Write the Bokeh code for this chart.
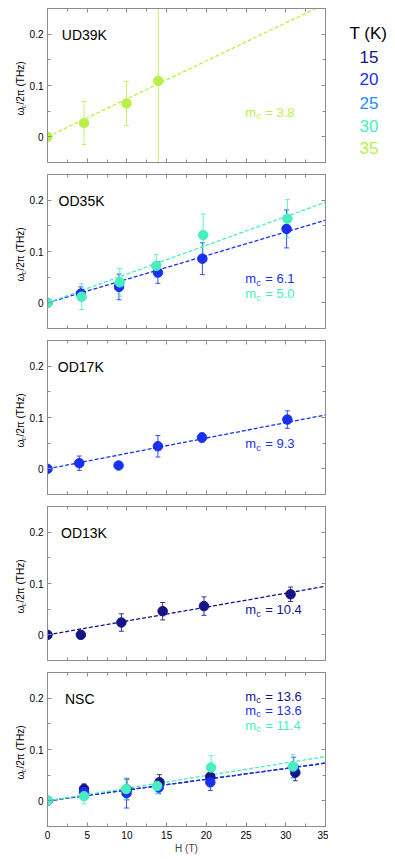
import math
from bokeh.plotting import figure
from bokeh.models import (ColumnDataSource, Whisker, TeeHead, Label, LinearAxis,
                          FixedTicker, Range1d)
from bokeh.layouts import column, row
from bokeh.embed import file_html
from bokeh.resources import INLINE
from bokeh.core.properties import value

FONT = "Liberation Sans"

# ---------------- data ----------------
temps = ["15", "20", "25", "30", "35"]
temp_colors = ["#141486", "#1a30f0", "#1a8cff", "#48eec0", "#b8f048"]

x_start, x_end = 0, 35
y_start, y_end = -0.05, 0.25
x_major = [0, 5, 10, 15, 20, 25, 30, 35]
x_minor = [2.5, 7.5, 12.5, 17.5, 22.5, 27.5, 32.5]
y_major = [0, 0.1, 0.2]
y_minor = [-0.05, 0.05, 0.15, 0.25]
y_tick_labels = {0: "0", 0.1: "0.1", 0.2: "0.2"}

# UD39K, T = 35 K
ud39_35_H = [0, 4.6, 9.95, 13.95]
ud39_35_w = [0, 0.027, 0.065, 0.109]
ud39_35_e = [0, 0.042, 0.043, 0.30]

# OD35K, T = 20 K and 30 K
od35_20_H = [0, 4.2, 9.0, 13.9, 19.5, 30.1]
od35_20_w = [0, 0.018, 0.031, 0.059, 0.086, 0.144]
od35_20_e = [0, 0.013, 0.025, 0.021, 0.031, 0.037]
od35_30_H = [0, 4.3, 9.1, 13.7, 19.6, 30.2]
od35_30_w = [0, 0.012, 0.040, 0.072, 0.132, 0.164]
od35_30_e = [0, 0.025, 0.027, 0.022, 0.041, 0.037]

# OD17K, T = 20 K
od17_20_H = [0, 4.0, 8.95, 13.9, 19.45, 30.2]
od17_20_w = [0, 0.011, 0.0065, 0.044, 0.061, 0.096]
od17_20_e = [0, 0.014, 0, 0.021, 0.009, 0.017]

# OD13K, T = 15 K
od13_15_H = [0, 4.2, 9.3, 14.5, 19.7, 30.6]
od13_15_w = [0, 0.0, 0.024, 0.046, 0.056, 0.079]
od13_15_e = [0, 0.007, 0.017, 0.017, 0.018, 0.014]

# NSC, T = 15, 20, 30 K
nsc_15_H = [0, 4.6, 10.0, 14.1, 20.5, 31.2]
nsc_15_w = [0, 0.023, 0.022, 0.036, 0.047, 0.055]
nsc_15_e = [0, 0.010, 0.020, 0.015, 0.012, 0.016]
nsc_20_H = [0, 4.6, 9.95, 14.0, 20.5, 31.0]
nsc_20_w = [0, 0.017, 0.015, 0.026, 0.036, 0.065]
nsc_20_e = [0, 0.012, 0.029, 0.012, 0.016, 0.020]
nsc_30_H = [0, 4.6, 9.9, 13.8, 20.6, 30.9]
nsc_30_w = [0, 0.009, 0.023, 0.029, 0.065, 0.067]
nsc_30_e = [0, 0.015, 0.020, 0.015, 0.023, 0.023]

# fitted slopes (THz/T) and effective masses
ud39_slopes = {35: 0.0074}
od35_slopes = {20: 0.0046, 30: 0.0056}
od17_slopes = {20: 0.0030}
od13_slopes = {15: 0.0027}
nsc_slopes = {15: 0.0021, 20: 0.0021, 30: 0.00246}
ud39_mc = {35: "3.8"}
od35_mc = {20: "6.1", 30: "5.0"}
od17_mc = {20: "9.3"}
od13_mc = {15: "10.4"}
nsc_mc = {15: "13.6", 20: "13.6", 30: "11.4"}

# ---------------- layout/style ----------------
GRAY = "#8c8c8c"
FRAME_W, FRAME_H = 280, 154
YLAB_W = 26          # strip holding the rotated y-axis title
LEFT_B = 19          # main figure border for tick labels
RIGHT_B = 3
mc_x = 24.9                     # text anchor (data x) of the m_c labels
mc_y = {"UD39K": [0.048], "OD35K": [0.047, 0.018], "OD17K": [0.049],
        "OD13K": [0.049], "NSC": [0.204, 0.176, 0.147]}
name_x = {"UD39K": 1.8, "OD35K": 1.4, "OD17K": 1.3, "OD13K": 1.7, "NSC": 2.2}


def tcolor(t):
    return temp_colors[temps.index(str(t))]


def borders(first, last):
    return (8 if first else 3), (30 if last else 9)


def make_ylabel(first=False, last=False):
    tb, bb = borders(first, last)
    p = figure(width=YLAB_W, height=tb + FRAME_H + bb,
               x_range=Range1d(0, YLAB_W), y_range=Range1d(0, FRAME_H),
               output_backend="svg", toolbar_location=None,
               x_axis_location=None, y_axis_location=None,
               min_border_left=0, min_border_right=0,
               min_border_top=tb, min_border_bottom=bb)
    p.grid.visible = False
    p.outline_line_color = None
    p.background_fill_color = "white"
    p.border_fill_color = "white"
    rot = math.pi / 2
    p.text(x=[19.5], y=[47], text=["ω"], angle=rot, text_font=value(FONT),
           text_font_size="10px", text_baseline="middle", text_align="left",
           text_color="black")
    p.text(x=[22.5], y=[54], text=["c"], angle=rot, text_font=value(FONT),
           text_font_size="7px", text_baseline="middle", text_align="left",
           text_color="black")
    p.text(x=[19.5], y=[58], text=["/2π (THz)"], angle=rot, text_font=value(FONT),
           text_font_size="10px", text_baseline="middle", text_align="left",
           text_color="black")
    return p


def make_panel(name, series, slopes, mcs, first=False, last=False):
    tb, bb = borders(first, last)
    p = figure(width=LEFT_B + FRAME_W + RIGHT_B, height=tb + FRAME_H + bb,
               x_range=Range1d(x_start, x_end), y_range=Range1d(y_start, y_end),
               output_backend="svg", toolbar_location=None,
               min_border_left=LEFT_B, min_border_right=RIGHT_B,
               min_border_top=tb, min_border_bottom=bb)
    p.grid.visible = False
    p.outline_line_color = GRAY
    p.background_fill_color = "white"
    p.border_fill_color = "white"

    xt = FixedTicker(ticks=x_major, minor_ticks=x_minor)
    yt = FixedTicker(ticks=y_major, minor_ticks=y_minor)

    for ax in p.xaxis:
        ax.ticker = xt
    for ax in p.yaxis:
        ax.ticker = yt
    for ax in list(p.xaxis) + list(p.yaxis):
        ax.axis_line_color = GRAY
        ax.major_tick_line_color = GRAY
        ax.minor_tick_line_color = GRAY
        ax.major_tick_in = 4
        ax.major_tick_out = 0
        ax.minor_tick_in = 3
        ax.minor_tick_out = 0
        ax.major_label_text_font = FONT
        ax.major_label_text_font_size = "10px"
        ax.major_label_text_color = "black"
    p.yaxis.major_label_overrides = y_tick_labels
    p.yaxis.major_label_standoff = 4
    if last:
        p.xaxis.major_label_standoff = 4
        p.xaxis.axis_label = "H (T)"
        p.xaxis.axis_label_text_font = FONT
        p.xaxis.axis_label_text_font_size = "10px"
        p.xaxis.axis_label_text_font_style = "normal"
        p.xaxis.axis_label_standoff = 1
    else:
        p.xaxis.major_label_text_font_size = "1px"
        p.xaxis.major_label_text_color = None
        p.xaxis.major_label_standoff = 0

    # mirrored top / right axes with inward ticks, no labels
    for loc, tk in (("above", xt), ("right", yt)):
        ax = LinearAxis(ticker=tk, axis_line_color=GRAY, major_tick_line_color=GRAY,
                        minor_tick_line_color=GRAY, major_tick_in=4, major_tick_out=0,
                        minor_tick_in=3, minor_tick_out=0,
                        major_label_text_font_size="1px", major_label_text_color=None,
                        major_label_standoff=0)
        p.add_layout(ax, loc)

    # fitted dashed lines
    for t, s in slopes.items():
        p.line([x_start, x_end], [s * x_start, s * x_end], line_color=tcolor(t),
               line_width=1.3, line_dash="4 2")

    # data with error bars
    for t, H, w, e in series:
        c = tcolor(t)
        src = ColumnDataSource(dict(H=H, w=w, lo=[a - b for a, b in zip(w, e)],
                                    up=[a + b for a, b in zip(w, e)]))
        p.add_layout(Whisker(source=src, base="H", lower="lo", upper="up",
                             line_color=c, line_width=1, line_alpha=0.85,
                             lower_head=TeeHead(size=5, line_color=c, line_width=1, line_alpha=0.85),
                             upper_head=TeeHead(size=5, line_color=c, line_width=1, line_alpha=0.85)))
        p.scatter("H", "w", source=src, size=9.5, fill_color=c, line_color=c)

    # sample name
    p.add_layout(Label(x=name_x[name], y=0.198, text=name, text_font=FONT,
                       text_font_size="14px", text_baseline="middle", text_color="black"))

    # m_c labels
    for (t, mc), yy in zip(mcs.items(), mc_y[name]):
        c = tcolor(t)
        p.add_layout(Label(x=mc_x, y=yy, text="m", text_font=FONT, text_font_size="13px",
                           text_baseline="middle", text_color=c))
        p.add_layout(Label(x=mc_x, y=yy, x_offset=11, y_offset=-4, text="c", text_font=FONT,
                           text_font_size="9px", text_baseline="middle", text_color=c))
        p.add_layout(Label(x=mc_x, y=yy, x_offset=20, text="= " + mc, text_font=FONT,
                           text_font_size="13px", text_baseline="middle", text_color=c))
    return p


def make_legend(height):
    wl = 395 - YLAB_W - LEFT_B - FRAME_W - RIGHT_B
    p = figure(width=wl, height=height,
               x_range=Range1d(0, wl), y_range=Range1d(0, height),
               output_backend="svg", toolbar_location=None,
               x_axis_location=None, y_axis_location=None,
               min_border_left=0, min_border_right=0,
               min_border_top=0, min_border_bottom=0)
    p.grid.visible = False
    p.outline_line_color = None
    p.background_fill_color = "white"
    p.border_fill_color = "white"
    p.text(x=[21], y=[height - 27.5], text=["T (K)"], text_font=value(FONT),
           text_font_size="17px", text_baseline="middle", text_align="left",
           text_color="black")
    ys = [height - v for v in (54, 78.5, 104.5, 130, 154.5)]
    src = ColumnDataSource(dict(x=[40.5] * len(temps), y=ys, t=temps, c=temp_colors))
    p.text(x="x", y="y", text="t", text_color="c", source=src, text_font=value(FONT),
           text_font_size="17px", text_baseline="middle", text_align="center")
    return p


specs = [
    ("UD39K", [(35, ud39_35_H, ud39_35_w, ud39_35_e)], ud39_slopes, ud39_mc),
    ("OD35K", [(20, od35_20_H, od35_20_w, od35_20_e),
               (30, od35_30_H, od35_30_w, od35_30_e)], od35_slopes, od35_mc),
    ("OD17K", [(20, od17_20_H, od17_20_w, od17_20_e)], od17_slopes, od17_mc),
    ("OD13K", [(15, od13_15_H, od13_15_w, od13_15_e)], od13_slopes, od13_mc),
    ("NSC", [(15, nsc_15_H, nsc_15_w, nsc_15_e),
             (20, nsc_20_H, nsc_20_w, nsc_20_e),
             (30, nsc_30_H, nsc_30_w, nsc_30_e)], nsc_slopes, nsc_mc),
]

rows = []
n = len(specs)
for i, (name, series, slopes, mcs) in enumerate(specs):
    first, last = i == 0, i == n - 1
    ylab = make_ylabel(first, last)
    panel = make_panel(name, series, slopes, mcs, first, last)
    kids = [ylab, panel]
    if first:
        kids.append(make_legend(panel.height))
    rows.append(row(*kids, spacing=0))

layout = column(*rows, spacing=0)
open("out.html", "w").write(file_html(layout, INLINE))
